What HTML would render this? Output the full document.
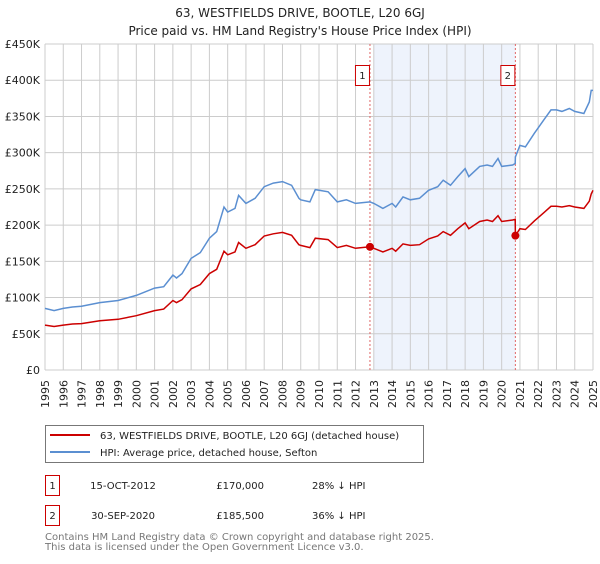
<!DOCTYPE html>
<html><head><meta charset="utf-8"><style>
body{margin:0;background:#fff;font-family:"DejaVu Sans","Liberation Sans",sans-serif;}
svg text{font-family:"DejaVu Sans","Liberation Sans",sans-serif;}
</style></head><body>
<svg id="chart" width="600" height="560" xmlns="http://www.w3.org/2000/svg">
<text x="300" y="17" text-anchor="middle" font-size="12" fill="#222">63, WESTFIELDS DRIVE, BOOTLE, L20 6GJ</text>
<text x="300" y="35" text-anchor="middle" font-size="12" fill="#222">Price paid vs. HM Land Registry's House Price Index (HPI)</text>
<g id="grid"></g>
<g id="marks"></g>
<g>
<rect x="45.5" y="425.5" width="378" height="37" fill="#fff" stroke="#777"/>
<line x1="50" y1="435" x2="90" y2="435" stroke="#cc0000" stroke-width="2"/>
<text x="100" y="439" font-size="10" fill="#222">63, WESTFIELDS DRIVE, BOOTLE, L20 6GJ (detached house)</text>
<line x1="50" y1="452" x2="90" y2="452" stroke="#5b8fd1" stroke-width="2"/>
<text x="100" y="456" font-size="10" fill="#222">HPI: Average price, detached house, Sefton</text>
</g>
<g font-size="10" fill="#222">
<rect x="45.5" y="475.5" width="14" height="20" fill="#fff" stroke="#cc0000"/>
<text x="52.5" y="489" text-anchor="middle">1</text>
<text x="123" y="489" text-anchor="middle">15-OCT-2012</text>
<text x="264" y="489" text-anchor="end">£170,000</text>
<text x="312" y="489">28% ↓ HPI</text>
<rect x="45.5" y="505.5" width="14" height="20" fill="#fff" stroke="#cc0000"/>
<text x="52.5" y="519" text-anchor="middle">2</text>
<text x="123" y="519" text-anchor="middle">30-SEP-2020</text>
<text x="264" y="519" text-anchor="end">£185,500</text>
<text x="312" y="519">36% ↓ HPI</text>
</g>
<g font-size="10" fill="#777">
<text x="45" y="540">Contains HM Land Registry data © Crown copyright and database right 2025.</text>
<text x="45" y="550">This data is licensed under the Open Government Licence v3.0.</text>
</g>
</svg>
<script>
const hpiYears=[1995,1995.5,1996,1996.5,1997,1998,1999,2000,2001,2001.5,2002,2002.2,2002.5,2003,2003.5,2004,2004.4,2004.8,2005,2005.4,2005.6,2006,2006.5,2007,2007.5,2008,2008.5,2008.9,2009,2009.5,2009.8,2010.5,2011,2011.5,2012,2012.79,2013,2013.5,2014,2014.2,2014.6,2015,2015.5,2016,2016.5,2016.8,2017.2,2017.6,2018,2018.2,2018.8,2019.2,2019.5,2019.8,2020,2020.6,2020.74,2020.75,2021,2021.3,2021.8,2022.3,2022.7,2023,2023.3,2023.7,2024,2024.5,2024.8,2024.9,2025];
const hpiValues=[85,82,85,87,88,93,96,103,113,115,131,127,133,154,162,182,191,225,218,223,241,230,237,253,258,260,255,237,235,232,249,246,232,235,230,232,230,223,230,225,239,235,237,248,253,262,255,267,278,267,281,283,281,292,281,283,285,294,310,308,327,345,359,359,357,361,357,354,370,386,386];
const priceValues=[62,60,62,63.5,64,68,70,75,82,84,96,93,97,112,118,133,139,164,159,163,176,168,173,185,188,190,186,173,172,169,182,180,169,172,168,170,168,163,168,164,174,172,173,181,185,191,186,195,203,195,205,207,205,213,205,207,208,185.5,195,194,206,217,226,226,225,227,225,223,233,243,248];
const saleYears=[2012.79,2020.75];
const saleValues=[170,185.5];
const saleLabels=["1","2"];
const yTicks=[0,50,100,150,200,250,300,350,400,450];
const yTickLabels=["£0","£50K","£100K","£150K","£200K","£250K","£300K","£350K","£400K","£450K"];
const xTicks=[1995,1996,1997,1998,1999,2000,2001,2002,2003,2004,2005,2006,2007,2008,2009,2010,2011,2012,2013,2014,2015,2016,2017,2018,2019,2020,2021,2022,2023,2024,2025];

const X0=45,X1=593,Y0=370,Y1=44;
function xs(y){return X0+(y-1995)/(2025-1995)*(X1-X0);}
function ys(v){return Y0-v/450*(Y0-Y1);}
const NS="http://www.w3.org/2000/svg";
function mk(tag,attrs,parent){const e=document.createElementNS(NS,tag);for(const k in attrs)e.setAttribute(k,attrs[k]);parent.appendChild(e);return e;}
const grid=document.getElementById('grid'),marks=document.getElementById('marks');
// shading
const sh=mk('rect',{x:xs(2013),y:Y1,width:xs(saleYears[1])-xs(2013),height:Y0-Y1,fill:'#eef3fc'},grid);


xTicks.forEach(t=>{
  const l=mk('line',{x1:xs(t),x2:xs(t),y1:Y1,y2:Y0,stroke:'#ccc','stroke-width':1},grid);
  
  
  const tx=mk('text',{transform:`translate(${xs(t)+4},${Y0+10}) rotate(-90)`,'text-anchor':'end','font-size':11,fill:'#222'},grid);
  tx.textContent=t;
  
  
});
yTicks.forEach((t,i)=>{
  const l=mk('line',{x1:X0,x2:X1,y1:ys(t),y2:ys(t),stroke:'#ccc','stroke-width':1},grid);
  
  
  const tx=mk('text',{x:X0-5,y:ys(t)+4,'text-anchor':'end','font-size':11,fill:'#222'},grid);
  tx.textContent=yTickLabels[i];
  
  
});
saleYears.forEach((s,i)=>{
  const l=mk('line',{x1:xs(s),x2:xs(s),y1:Y1,y2:Y0,stroke:'#e06666','stroke-width':1,'stroke-dasharray':'2,2'},marks);
  
  
  const r=mk('rect',{x:xs(s)-14.5,y:65.5,width:14,height:20,fill:'#fff',stroke:'#cc0000'},marks);
  
  
  const t=mk('text',{x:xs(s)-7.5,y:79,'text-anchor':'middle','font-size':10,fill:'#222'},marks);
  t.textContent=saleLabels[i];
  
  
});
function path(vals){return hpiYears.map((y,i)=>(i?'L':'M')+xs(y).toFixed(1)+','+ys(vals[i]).toFixed(1)).join('');}
const hp=mk('path',{d:path(hpiValues),fill:'none',stroke:'#5b8fd1','stroke-width':1.5},marks);


const pp=mk('path',{d:path(priceValues),fill:'none',stroke:'#cc0000','stroke-width':1.5},marks);


saleYears.forEach((s,i)=>{
  const c=mk('circle',{cx:xs(s),cy:ys(saleValues[i]),r:4,fill:'#cc0000'},marks);
  
  
});
</script>
</body></html>
